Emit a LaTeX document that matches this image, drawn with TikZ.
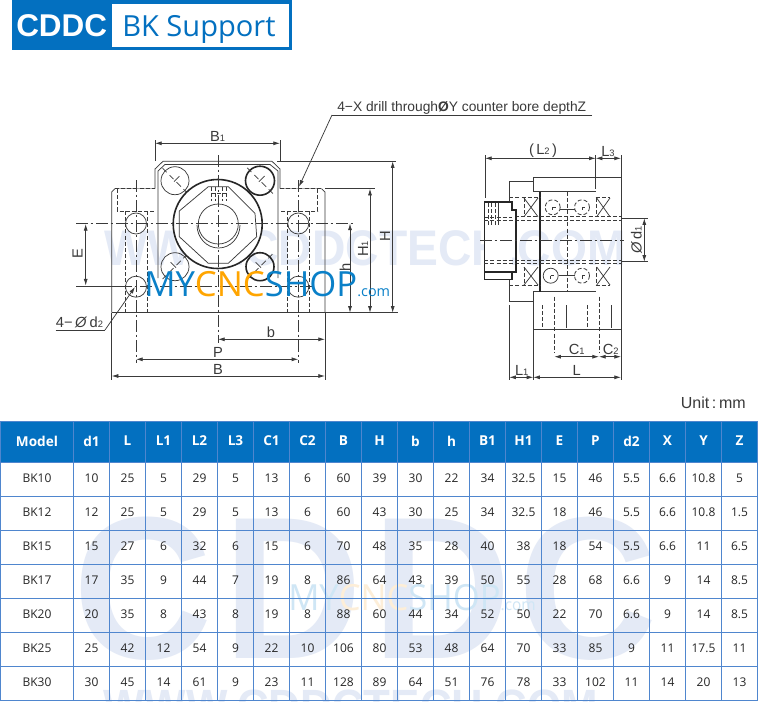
\documentclass[tikz,border=0pt]{standalone}
\usepackage{fontspec}
\usetikzlibrary{arrows.meta}
\setmainfont{Liberation Sans}
\newfontfamily\tabfont{Open Sans}
\definecolor{cdblue}{HTML}{0370C0}
\definecolor{gridblue}{HTML}{4F86CE}
\definecolor{wmark}{HTML}{E4EAF6}
\definecolor{logoblue}{HTML}{0A80C8}
\definecolor{logoorange}{HTML}{FFA500}
\definecolor{fadeblue}{HTML}{CFE6F5}
\definecolor{fadeorange}{HTML}{FDEED8}
\definecolor{ink}{HTML}{3A3A3A}
\newcommand{\fsz}[1]{\fontsize{#1}{#1}\selectfont}
\newcommand{\lowsub}[1]{{\fsz{7}#1}}
\tikzset{
  thinl/.style={draw=ink,line width=0.55pt},
  hvy/.style={draw=black!85,line width=1.2pt},
  hid/.style={draw=ink,line width=0.6pt,dash pattern=on 3pt off 1.6pt},
  ctr/.style={draw=ink,line width=0.55pt,dash pattern=on 9pt off 2pt on 2pt off 2pt},
  dimln/.style={draw=ink,line width=0.55pt,{Latex[length=5pt,width=3pt]}-{Latex[length=5pt,width=3pt]}},
  lead/.style={draw=ink,line width=0.55pt,-{Latex[length=5pt,width=3pt]}},
  lab/.style={text=ink,font=\fsz{11},inner sep=0pt},
  cell/.style={text=black!85,font=\tabfont\fsz{9},inner sep=0pt},
  headcell/.style={text=white,font=\tabfont\bfseries\fsz{10.2},inner sep=0pt},
  wm/.style={text=wmark,inner sep=0pt,anchor=base west},
}
% screw head: x, y, radius, line style, rotation
\newcommand{\screw}[5]{%
  \draw[#4] (#1,#2) circle (#3);
  \begin{scope}[shift={(#1,#2)},rotate=#5]
    \draw[thinl] (-#3*0.85,0) -- (-#3*1.25,0);
    \draw[thinl] (#3*0.85,0) -- (#3*1.25,0);
    \draw[thinl] (-#3*0.55,0) -- (-#3*0.15,0);
    \draw[thinl] (0,-#3*0.45) -- (0,#3*0.1);
    \draw[thinl] (#3*0.15,0) -- (#3*0.6,0);
  \end{scope}
}
\begin{document}
\begin{tikzpicture}[x=0.75pt,y=-0.75pt]
\useasboundingbox (0,0) rectangle (758,701);
\begin{scope}
\clip (0,0) rectangle (758,701);
\fill[white] (0,0) rectangle (758,701);
% ---------- watermarks
\node[wm,font=\bfseries\fsz{37.5}] (wmtop) at (104,265) {\scalebox{0.925}[1]{WWW.CDDCTECH.COM}};
\foreach \lt/\lx [count=\i] in {C/73,D/223.5,D/372.5,C/518}{
  \node[wm,font=\bfseries\fsz{152}] (wmbig\i) at (\lx,658) {\scalebox{0.95}[1]{\lt}};
}
\node[wm,font=\bfseries\fsz{35}] (wmbot) at (103,722) {\scalebox{0.94}[1]{WWW.CDDCTECH.COM}};
\node[anchor=base west,inner sep=0pt,font=\tabfont\fsz{27}] (wmlogo) at (288,610)
  {\scalebox{0.96}[1]{\color{fadeblue}MY\color{fadeorange}CNC\color{fadeblue}SHOP\fsz{12}.com}};
% ---------- title
\fill[cdblue] (12,0) rectangle (292,50);
\fill[white] (112,3.5) rectangle (288.7,46.7);
\node[anchor=base west,inner sep=0pt,text=white,font=\bfseries\fsz{23.6}] (brand) at (16,36) {CDDC};
\node[anchor=base west,inner sep=0pt,text=cdblue,font=\tabfont\fsz{21.8}] (titl) at (122,36) {BK Support};
% ---------- front view: outline
\draw[thinl] (111.7,312.7) -- (111.7,192) -- (115,188.7);
\draw[thinl] (325,312.7) -- (325,192) -- (321.5,188.7);
\draw[thinl] (111.7,312.7) -- (325,312.7);
\draw[draw=black!35,line width=0.5pt] (115,188.7) -- (155,188.7) (280,188.7) -- (321.5,188.7);
\draw[hid] (115,188.7) -- (155,188.7) (280,188.7) -- (321.5,188.7);
\draw[thinl] (155,188.7) -- (155,169) -- (163,161.3) -- (272,161.3) -- (280,169) -- (280,188.7);
\draw[thinl] (158,278) -- (158,171) -- (165,164.5) -- (270,164.5) -- (278,171) -- (278,278);
% counterbores and drills
\draw[hid] (117.3,188.7) -- (117.3,211) -- (155,211);
\draw[hid] (317.7,188.7) -- (317.7,211) -- (280,211);
\draw[hid] (125,211) -- (125,312.7) (147.3,211) -- (147.3,312.7);
\draw[hid] (287.3,211) -- (287.3,312.7) (309.3,211) -- (309.3,312.7);
\draw[thinl] (136,223.5) circle (10.5) (298.3,223.5) circle (10.5);
\draw[thinl] (136,286.7) circle (10.5) (298.3,286.7) circle (10.5);
% screws
\screw{175}{180.7}{14}{thinl}{-45}
\screw{260}{180.7}{14.5}{hvy}{-45}
\screw{175}{266.7}{14}{thinl}{45}
\screw{260}{266.7}{14}{hvy}{45}
% central housing
\fill[white] (217.7,224) circle (44.5);
\draw[hvy] (217.7,224) circle (44.5);
\draw[thinl] (179.3,211) -- (208.3,186.7) -- (228.3,186.7) -- (255,213.3) -- (256.7,236.7) -- (228.3,263.3) -- (208.3,263.3) -- (179.3,236.7) -- cycle;
\draw[thinl] (218.3,224) circle (20);
\draw[thinl] (197,225) arc (180:0:21.5 and 23);
\draw[hid] (211,186.7) -- (211,201) (215,186.7) -- (215,201) (222,186.7) -- (222,201) (226,186.7) -- (226,201);
\draw[hid] (211,193) -- (226,193);
% centre lines
\draw[ctr] (218,155) -- (218,343);
\draw[ctr] (76,223.5) -- (353,223.5);
\draw[thinl] (76,286) -- (120,286);
\draw[ctr] (120,286.7) -- (312,286.7);
\draw[ctr] (136,180) -- (136,363);
\draw[ctr] (298.3,180) -- (298.3,363);
% front-view dimensions
\draw[thinl] (155,140) -- (155,161) (280,140) -- (280,161);
\draw[dimln] (155,143.3) -- (280,143.3);
\node[lab] (lB1) at (217.5,136.5) {B\lowsub{1}};
\draw[thinl] (277,161.3) -- (396,161.3) (325,188.7) -- (375,188.7) (325,312.7) -- (398,312.7);
\draw[dimln] (392.7,161.3) -- (392.7,312.7);
\node[lab,rotate=90] (lH) at (385,236.5) {H};
\draw[dimln] (370,188.7) -- (370,312.7);
\node[lab,rotate=90] (lH1) at (363,249) {H\lowsub{1}};
\draw[dimln] (350,223.5) -- (350,312.7);
\node[lab,rotate=90] (lh) at (345,267) {h};
\draw[thinl] (111.7,312.7) -- (111.7,380) (325,312.7) -- (325,380);
\draw[dimln] (218,339.3) -- (325,339.3);
\node[lab] (lb) at (271,332.5) {b};
\draw[dimln] (136,359.3) -- (298.3,359.3);
\node[lab] (lP) at (218,352.5) {P};
\draw[dimln] (111.7,376) -- (325,376);
\node[lab] (lB) at (218,369) {B};
\draw[dimln] (85.7,224) -- (85.7,285.5);
\node[lab,rotate=90] (lE) at (77.5,254) {E};
% callouts
\node[lab,anchor=base west,font=\fsz{10.35}] (hd) at (337,111) {4−X drill through\textbf{Ø}Y counter bore depthZ};
\coordinate (hdl) at (332,115);
\coordinate (hdr) at (592,115);
\coordinate (hdt) at (299,186.7);
\draw[thinl] (hdr) -- (hdl);
\draw[lead] (hdl) -- (hdt);
\node[lab,anchor=base west] (dtwo) at (55.7,327) {4−\,\textit{Ø}\,d\lowsub{2}};
\coordinate (dl) at (55.7,330);
\coordinate (dm) at (105,330);
\coordinate (dt) at (135,287);
\draw[thinl] (dl) -- (dm);
\draw[lead] (dm) -- (dt);
% ---------- side view
\draw[thinl] (533.3,191.7) -- (533.3,177.3) -- (621,177.3) -- (621,329.3) -- (533.3,329.3) -- (533.3,291.7);
\draw[thinl] (533.3,181.7) -- (509.3,181.7) -- (509.3,301.7) -- (533.3,301.7);
\draw[thinl] (533.3,191.7) -- (595.7,191.7) (533.3,291.7) -- (595.7,291.7);
\draw[draw=black!85,line width=0.9pt] (540,191.7) -- (540,291.7);
\draw[thinl] (621,218.3) -- (648,218.3) (621,261.7) -- (648,261.7);
% bearings
\draw[hid] (509.3,197.7) -- (540,197.7) (595.7,197.7) -- (610,197.7);
\draw[hid] (509.3,285) -- (540,285) (595.7,285) -- (610,285);
\draw[hid] (515,216.7) -- (621,216.7) (515,220) -- (621,220);
\draw[hid] (515,260) -- (621,260) (515,263.3) -- (621,263.3);
\foreach \bx/\ex in {524/538,596.7/610}{
  \foreach \by/\ey in {198/216.7,267/285}{
    \draw[thinl] (\bx,\by) -- (\ex,\ey) (\bx,\ey) -- (\ex,\by);
    \draw[hid] (\bx,\by) -- (\bx,\ey);
  }
}
\draw[hid] (552.7,207.3) circle (7.5) (582,207.3) circle (7.5) (582,275.7) circle (7.5);
\draw[thinl] (550.7,275.7) circle (7.5);
\foreach \cx/\cy in {552.7/207.3,582/207.3,550.7/275.7,582/275.7}{
  \draw[thinl] (\cx,\cy) -- (\cx+3,\cy) (\cx,\cy) -- (\cx,\cy+3);
}
\draw[thinl] (560,209) -- (574.5,209) (558.5,275.7) -- (574.5,275.7);
% locknut
\fill[white] (484.3,202) rectangle (511.7,279.3);
\draw[hid,line width=0.45pt] (488,203) -- (488,225) (491,203) -- (491,225) (495,203) -- (495,225);
\draw[thinl] (498,203) -- (498,225);
\draw[hid,line width=0.45pt] (484.3,217) -- (511.7,217);
\draw[hvy] (484.3,202) -- (511.7,202) -- (511.7,210) -- (515.7,210) -- (515.7,271.7) -- (511.7,271.7) -- (511.7,279.3) -- (484.3,279.3) -- cycle;
\draw[hvy] (484.3,271.7) -- (515.7,271.7);
\draw[hid] (484.3,260) -- (515.7,260) (484.3,263.3) -- (515.7,263.3);
\draw[hid] (484.3,220) -- (515.7,220);
% side centre lines
\draw[ctr] (480,240.7) -- (624,240.7);
\draw[hid] (567.3,191.7) -- (567.3,291.7);
\draw[hid] (554.3,296.7) -- (554.3,353) (599,296.7) -- (599,353);
\draw[hid] (542.7,305) -- (542.7,328) (587.7,305) -- (587.7,328);
\draw[thinl] (566,305) -- (566,328) (611,305) -- (611,328);
% side dimensions
\draw[thinl] (485,155) -- (485,198) (595.7,155) -- (595.7,189) (621,155) -- (621,177);
\draw[dimln] (485,158.3) -- (595.7,158.3);
\node[lab] (lL2) at (543,150.5) {(\,L\lowsub{2}\,)};
\draw[dimln] (595.7,158.3) -- (621,158.3);
\node[lab] (lL3) at (608,151) {L\lowsub{3}};
\draw[dimln] (644.3,218.3) -- (644.3,261.7);
\node[lab,rotate=90] (ld1) at (636.5,240) {\textit{Ø}\,d\lowsub{1}};
\draw[thinl] (621,329.3) -- (621,380) (533.3,329.3) -- (533.3,380) (509.3,305) -- (509.3,380);
\draw[dimln] (554.3,356.7) -- (599,356.7);
\node[lab] (lC1) at (576.7,349) {C\lowsub{1}};
\draw[dimln] (599,356.7) -- (621,356.7);
\node[lab] (lC2) at (610.7,349) {C\lowsub{2}};
\draw[dimln] (509.3,377.3) -- (533.3,377.3);
\node[lab] (lL1) at (521.7,370.5) {L\lowsub{1}};
\draw[dimln] (533.3,377.3) -- (621,377.3);
\node[lab] (lL) at (576.7,370.5) {L};
% logo
\node[anchor=base west,inner sep=0pt,font=\tabfont\fsz{26}] (logo) at (144,296.7)
  {\color{logoblue}MY\color{logoorange}CNC\color{logoblue}SHOP\fsz{10.8}.com};
% unit
\node[anchor=base east,inner sep=0pt,text=ink,font=\fsz{12}] (unit) at (746,408) {Unit\,:\,mm};
% ---------- table
\fill[cdblue] (0.5,421) rectangle (757.5,462.5);
\foreach \yy in {421,462.5,496.5,530.5,564.5,598.5,632.5,666.5,700}{
  \draw[gridblue,line width=0.75pt] (0,\yy) -- (758,\yy);
}
\draw[gridblue,line width=0.75pt] (0.5,421) -- (0.5,700);
\foreach \k in {0,...,19}{
  \draw[gridblue,line width=0.75pt] (73.5+36*\k,421) -- (73.5+36*\k,700);
}
\foreach \v [count=\c] in {Model,d1,L,L1,L2,L3,C1,C2,B,H,b,h,B1,H1,E,P,d2,X,Y,Z}{
  \ifnum\c=1 \def\xx{37}\else\pgfmathsetmacro{\xx}{19.5+36*\c}\fi
  \node[headcell] (h\c) at (\xx,441) {\v};
}
\foreach \rw [count=\r] in {
  {BK10,10,25,5,29,5,13,6,60,39,30,22,34,32.5,15,46,5.5,6.6,10.8,5},
  {BK12,12,25,5,29,5,13,6,60,43,30,25,34,32.5,18,46,5.5,6.6,10.8,1.5},
  {BK15,15,27,6,32,6,15,6,70,48,35,28,40,38,18,54,5.5,6.6,11,6.5},
  {BK17,17,35,9,44,7,19,8,86,64,43,39,50,55,28,68,6.6,9,14,8.5},
  {BK20,20,35,8,43,8,19,8,88,60,44,34,52,50,22,70,6.6,9,14,8.5},
  {BK25,25,42,12,54,9,22,10,106,80,53,48,64,70,33,85,9,11,17.5,11},
  {BK30,30,45,14,61,9,23,11,128,89,64,51,76,78,33,102,11,14,20,13}}{
  \foreach \v [count=\c] in \rw {
    \ifnum\c=1 \def\xx{37}\else\pgfmathsetmacro{\xx}{19.5+36*\c}\fi
    \pgfmathsetmacro{\yy}{478.5+34*(\r-1)}
    \node[cell] (c\r-\c) at (\xx,\yy) {\v};
  }
}
\end{scope}
\end{tikzpicture}
\end{document}
